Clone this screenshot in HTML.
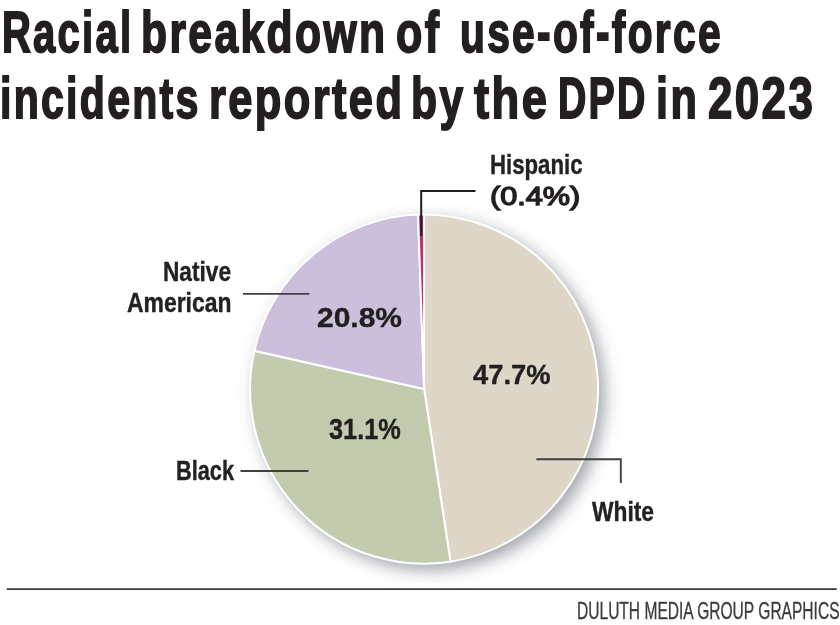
<!DOCTYPE html>
<html><head><meta charset="utf-8">
<style>
html,body{margin:0;padding:0;background:#fff;}
body{width:840px;height:625px;position:relative;overflow:hidden;font-family:"Liberation Sans",sans-serif;}
.t{position:absolute;white-space:nowrap;transform-origin:0 0;line-height:1;}
.title{font-weight:bold;color:#231f20;}
.lab{font-weight:bold;color:#222222;}
.pct{font-weight:bold;color:#231f20;}
.foot{color:#3c3c3c;}
.pctl{font-weight:normal;color:#231f20;}
svg{position:absolute;left:0;top:0;}
</style></head><body>
<svg width="840" height="625" viewBox="0 0 840 625">
<defs>
<filter id="sh" x="-20%" y="-20%" width="150%" height="150%">
<feGaussianBlur in="SourceAlpha" stdDeviation="8"/>
<feOffset dx="6" dy="6" result="b"/>
<feFlood flood-color="#5a5f6b" flood-opacity="0.55"/>
<feComposite in2="b" operator="in"/>
</filter>
</defs>
<ellipse cx="424.1" cy="389.1" rx="175.0" ry="175.6" fill="#000" filter="url(#sh)"/>
<g stroke="#fff" stroke-width="2" stroke-linejoin="round">
<path fill="#ded7c8" d="M424.1,389.1 L424.10,214.50 A174.0,174.6 0 0 1 450.54,561.67 Z"/>
<path fill="#c3cbae" d="M424.1,389.1 L450.54,561.67 A174.0,174.6 0 0 1 254.37,350.66 Z"/>
<path fill="#cbbfdb" d="M424.1,389.1 L254.37,350.66 A174.0,174.6 0 0 1 418.03,214.61 Z"/>
<path fill="#c0306f" d="M424.1,389.1 L418.03,214.61 A174.0,174.6 0 0 1 424.10,214.50 Z"/>
</g>
<g stroke="#404040" stroke-width="1.9" fill="none">
<path d="M243,293.9 H309.5"/>
<path d="M240.5,471 H308.4"/>
<path d="M536.3,459.3 H620.8 V483"/>
</g>
<path d="M475.5,191.1 H421.2 V236" stroke="#1e1e1e" stroke-width="2" fill="none"/>
<path d="M6.8,589.1 H836.7" stroke="#383838" stroke-width="1.8" fill="none"/>
</svg>
<div class="t title" id="a0" style="left:1.51px;top:3.71px;font-size:57.40px;transform:scaleX(0.6970);-webkit-text-stroke:1.8px currentColor;letter-spacing:3.2px">Racial</div>
<div class="t title" id="a1" style="left:141.32px;top:3.71px;font-size:57.40px;transform:scaleX(0.7424);-webkit-text-stroke:1.8px currentColor;letter-spacing:3.2px">breakdown</div>
<div class="t title" id="a2" style="left:396.08px;top:3.71px;font-size:57.40px;transform:scaleX(0.7492);-webkit-text-stroke:1.8px currentColor;letter-spacing:3.2px">of</div>
<div class="t title" id="a3" style="left:459.84px;top:3.71px;font-size:57.40px;transform:scaleX(0.7103);-webkit-text-stroke:1.8px currentColor;letter-spacing:3.2px">use-of-force</div>
<div class="t title" id="b0" style="left:0.24px;top:70.31px;font-size:57.85px;transform:scaleX(0.7096);-webkit-text-stroke:1.8px currentColor;letter-spacing:3.2px">incidents</div>
<div class="t title" id="b1" style="left:208.98px;top:70.31px;font-size:57.85px;transform:scaleX(0.7505);-webkit-text-stroke:1.8px currentColor;letter-spacing:3.2px">reported</div>
<div class="t title" id="b2" style="left:410.58px;top:70.31px;font-size:57.85px;transform:scaleX(0.7375);-webkit-text-stroke:1.8px currentColor;letter-spacing:3.2px">by</div>
<div class="t title" id="b3" style="left:473.50px;top:70.31px;font-size:57.85px;transform:scaleX(0.7838);-webkit-text-stroke:1.8px currentColor;letter-spacing:3.2px">the</div>
<div class="t title" id="b4" style="left:558.40px;top:70.31px;font-size:57.85px;transform:scaleX(0.6788);-webkit-text-stroke:1.8px currentColor;letter-spacing:3.2px">DPD</div>
<div class="t title" id="b5" style="left:656.43px;top:70.31px;font-size:57.85px;transform:scaleX(0.7472);-webkit-text-stroke:1.8px currentColor;letter-spacing:3.2px">in</div>
<div class="t title" id="b6" style="left:708.18px;top:70.31px;font-size:57.85px;transform:scaleX(0.7578);-webkit-text-stroke:1.8px currentColor;letter-spacing:3.2px">2023</div>
<div class="t lab" id="hisp" style="left:490.13px;top:151.41px;font-size:27.42px;transform:scaleX(0.8101);-webkit-text-stroke:0.4px currentColor;letter-spacing:0px">Hispanic</div>
<div class="t pctl" id="hpct" style="left:489.67px;top:183.33px;font-size:26.60px;transform:scaleX(1.1525);-webkit-text-stroke:1.4px currentColor;letter-spacing:0px">(0.4%)</div>
<div class="t lab" id="nat" style="left:163.25px;top:257.51px;font-size:27.91px;transform:scaleX(0.8121);-webkit-text-stroke:0.4px currentColor;letter-spacing:0px">Native</div>
<div class="t lab" id="amer" style="left:127.22px;top:290.06px;font-size:27.00px;transform:scaleX(0.8490);-webkit-text-stroke:0.4px currentColor;letter-spacing:0px">American</div>
<div class="t pct" id="p208" style="left:316.69px;top:302.61px;font-size:28.31px;transform:scaleX(1.0596);-webkit-text-stroke:0.4px currentColor;letter-spacing:0px">20.8%</div>
<div class="t pct" id="p477" style="left:472.80px;top:359.81px;font-size:28.31px;transform:scaleX(0.9652);-webkit-text-stroke:0.4px currentColor;letter-spacing:0px">47.7%</div>
<div class="t pct" id="p311" style="left:328.94px;top:414.91px;font-size:28.60px;transform:scaleX(0.8843);-webkit-text-stroke:0.4px currentColor;letter-spacing:0px">31.1%</div>
<div class="t lab" id="blk" style="left:176.30px;top:458.41px;font-size:26.82px;transform:scaleX(0.8109);-webkit-text-stroke:0.4px currentColor;letter-spacing:0px">Black</div>
<div class="t lab" id="wht" style="left:592.09px;top:498.31px;font-size:27.37px;transform:scaleX(0.8321);-webkit-text-stroke:0.4px currentColor;letter-spacing:0px">White</div>
<div class="t foot" id="foot" style="left:577.02px;top:599.78px;font-size:23.52px;transform:scaleX(0.6617);-webkit-text-stroke:0.35px currentColor;letter-spacing:0px">DULUTH MEDIA GROUP GRAPHICS</div>
</body></html>
